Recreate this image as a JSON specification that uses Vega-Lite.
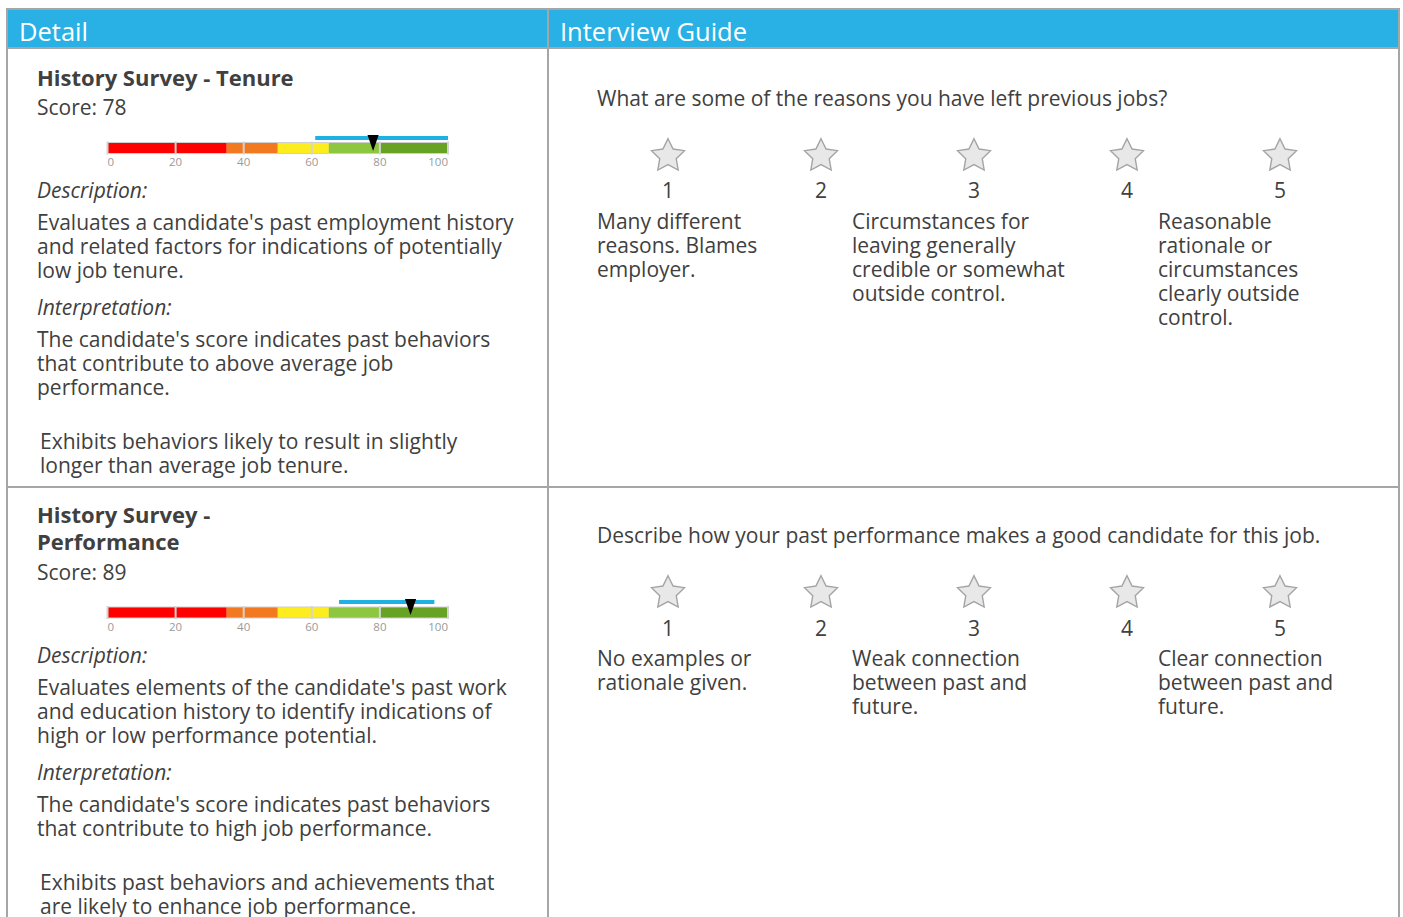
{
  "$schema": "https://vega.github.io/schema/vega-lite/v6.json",
  "padding": {"left": 6, "top": 8, "right": 5, "bottom": 0},
  "bounds": "flush",
  "background": "white",
  "spacing": 0,
  "columns": 2,
  "config": {
    "font": "Open Sans",
    "view": {"stroke": "#a6a6a6", "strokeWidth": 2},
    "axis": {"disable": true},
    "legend": {"disable": true},
    "concat": {"spacing": 0},
    "text": {"font": "Open Sans", "color": "#404040", "baseline": "middle"}
  },
  "datasets": {
    "headers": [
      {"panel": "detail", "label": "Detail", "col": 0, "line": 0},
      {"panel": "guide", "label": "Interview Guide", "col": 0, "line": 0}
    ],
    "detail": [
      {"section": 1, "role": "title", "line": 0, "indent": 0, "text": "History Survey - Tenure"},
      {"section": 1, "role": "body", "line": 1, "indent": 0, "text": "Score: 78"},
      {"section": 1, "role": "label", "line": 6, "indent": 0, "text": "Description:"},
      {"section": 1, "role": "body", "line": 7, "indent": 0, "text": "Evaluates a candidate's past employment history"},
      {"section": 1, "role": "body", "line": 8, "indent": 0, "text": "and related factors for indications of potentially"},
      {"section": 1, "role": "body", "line": 9, "indent": 0, "text": "low job tenure."},
      {"section": 1, "role": "label", "line": 10, "indent": 0, "text": "Interpretation:"},
      {"section": 1, "role": "body", "line": 11, "indent": 0, "text": "The candidate's score indicates past behaviors"},
      {"section": 1, "role": "body", "line": 12, "indent": 0, "text": "that contribute to above average job"},
      {"section": 1, "role": "body", "line": 13, "indent": 0, "text": "performance."},
      {"section": 1, "role": "body", "line": 14, "indent": 1, "text": "Exhibits behaviors likely to result in slightly"},
      {"section": 1, "role": "body", "line": 15, "indent": 1, "text": "longer than average job tenure."},
      {"section": 2, "role": "title", "line": 0, "indent": 0, "text": "History Survey -"},
      {"section": 2, "role": "title", "line": 1, "indent": 0, "text": "Performance"},
      {"section": 2, "role": "body", "line": 2, "indent": 0, "text": "Score: 89"},
      {"section": 2, "role": "label", "line": 7, "indent": 0, "text": "Description:"},
      {"section": 2, "role": "body", "line": 8, "indent": 0, "text": "Evaluates elements of the candidate's past work"},
      {"section": 2, "role": "body", "line": 9, "indent": 0, "text": "and education history to identify indications of"},
      {"section": 2, "role": "body", "line": 10, "indent": 0, "text": "high or low performance potential."},
      {"section": 2, "role": "label", "line": 11, "indent": 0, "text": "Interpretation:"},
      {"section": 2, "role": "body", "line": 12, "indent": 0, "text": "The candidate's score indicates past behaviors"},
      {"section": 2, "role": "body", "line": 13, "indent": 0, "text": "that contribute to high job performance."},
      {"section": 2, "role": "body", "line": 14, "indent": 1, "text": "Exhibits past behaviors and achievements that"},
      {"section": 2, "role": "body", "line": 15, "indent": 1, "text": "are likely to enhance job performance."}
    ],
    "zones": [
      {"zone": "Very low", "from": 0, "to": 35},
      {"zone": "Low", "from": 35, "to": 50},
      {"zone": "Average", "from": 50, "to": 65},
      {"zone": "High", "from": 65, "to": 80},
      {"zone": "Very high", "from": 80, "to": 100}
    ],
    "ticks": [{"v": 0}, {"v": 20}, {"v": 40}, {"v": 60}, {"v": 80}, {"v": 100}],
    "scores": [
      {"section": 1, "score": 78, "low": 61, "high": 100},
      {"section": 2, "score": 89, "low": 68, "high": 96}
    ],
    "guide": [
      {"section": 1, "col": 1, "line": 0, "text": "What are some of the reasons you have left previous jobs?"},
      {"section": 1, "col": 1, "line": 3, "text": "Many different"},
      {"section": 1, "col": 1, "line": 4, "text": "reasons. Blames"},
      {"section": 1, "col": 1, "line": 5, "text": "employer."},
      {"section": 1, "col": 3, "line": 3, "text": "Circumstances for"},
      {"section": 1, "col": 3, "line": 4, "text": "leaving generally"},
      {"section": 1, "col": 3, "line": 5, "text": "credible or somewhat"},
      {"section": 1, "col": 3, "line": 6, "text": "outside control."},
      {"section": 1, "col": 5, "line": 3, "text": "Reasonable"},
      {"section": 1, "col": 5, "line": 4, "text": "rationale or"},
      {"section": 1, "col": 5, "line": 5, "text": "circumstances"},
      {"section": 1, "col": 5, "line": 6, "text": "clearly outside"},
      {"section": 1, "col": 5, "line": 7, "text": "control."},
      {"section": 2, "col": 1, "line": 0, "text": "Describe how your past performance makes a good candidate for this job."},
      {"section": 2, "col": 1, "line": 3, "text": "No examples or"},
      {"section": 2, "col": 1, "line": 4, "text": "rationale given."},
      {"section": 2, "col": 3, "line": 3, "text": "Weak connection"},
      {"section": 2, "col": 3, "line": 4, "text": "between past and"},
      {"section": 2, "col": 3, "line": 5, "text": "future."},
      {"section": 2, "col": 5, "line": 3, "text": "Clear connection"},
      {"section": 2, "col": 5, "line": 4, "text": "between past and"},
      {"section": 2, "col": 5, "line": 5, "text": "future."}
    ],
    "ratings": [{"rating": 1}, {"rating": 2}, {"rating": 3}, {"rating": 4}, {"rating": 5}]
  },
  "concat": [
    {
      "width": 541, "height": 39,
      "view": {"fill": "#29b1e6", "stroke": "#a6a6a6", "strokeWidth": 2},
      "data": {"name": "headers"},
      "transform": [{"filter": "datum.panel == 'detail'"}],
      "mark": {"type": "text", "align": "left", "fontSize": 25.5, "color": "white"},
      "encoding": {
        "x": {"field": "col", "type": "quantitative", "scale": {"domain": [0, 1], "range": [12, 541]}},
        "y": {"field": "line", "type": "quantitative", "scale": {"domain": [0, 1], "range": [24, 63]}},
        "text": {"field": "label"}
      }
    },
    {
      "width": 851, "height": 39,
      "view": {"fill": "#29b1e6", "stroke": "#a6a6a6", "strokeWidth": 2},
      "data": {"name": "headers"},
      "transform": [{"filter": "datum.panel == 'guide'"}],
      "mark": {"type": "text", "align": "left", "fontSize": 25.5, "color": "white"},
      "encoding": {
        "x": {"field": "col", "type": "quantitative", "scale": {"domain": [0, 1], "range": [12, 851]}},
        "y": {"field": "line", "type": "quantitative", "scale": {"domain": [0, 1], "range": [24, 63]}},
        "text": {"field": "label"}
      }
    },
    {
      "width": 541, "height": 439,
      "layer": [
        {
          "data": {"name": "zones"},
          "mark": {"type": "rule", "strokeWidth": 12, "strokeCap": "butt", "color": "#cfcfcf"},
          "encoding": {
            "x": {"field": "from", "type": "quantitative", "scale": {"domain": [0, 100], "range": [100.5, 441]}},
            "x2": {"field": "to"},
            "y": {"datum": 4, "type": "quantitative", "scale": {"domain": [0, 1, 2, 3, 4, 5, 6, 7, 9, 10, 11, 13, 14, 15], "range": [31, 61, 90, 95, 100, 114.7, 144, 176, 224, 261, 293, 341, 395, 419], "nice": false, "zero": false}}
          }
        },
        {
          "data": {"name": "zones"},
          "mark": {"type": "rule", "strokeWidth": 10, "strokeCap": "butt"},
          "encoding": {
            "x": {"field": "from", "type": "quantitative", "scale": {"domain": [0, 100], "range": [100.5, 441]}},
            "x2": {"field": "to"},
            "y": {"datum": 4, "type": "quantitative"},
            "color": {"field": "zone", "type": "nominal", "scale": {"domain": ["Very low", "Low", "Average", "High", "Very high"], "range": ["#fe0000", "#f37921", "#fded1e", "#8dc63f", "#68a224"]}}
          }
        },
        {
          "data": {"name": "ticks"},
          "mark": {"type": "tick", "orient": "vertical", "size": 13, "thickness": 2, "color": "#d4d4d4", "opacity": 1},
          "encoding": {
            "x": {"field": "v", "type": "quantitative", "scale": {"domain": [0, 100], "range": [100.5, 441]}},
            "y": {"datum": 4, "type": "quantitative"}
          }
        },
        {
          "data": {"name": "scores"},
          "transform": [{"filter": "datum.section == 1"}],
          "mark": {"type": "rule", "strokeWidth": 4, "color": "#1fb0e6"},
          "encoding": {
            "x": {"field": "low", "type": "quantitative", "scale": {"domain": [0, 100], "range": [100.5, 441]}},
            "x2": {"field": "high"},
            "y": {"datum": 2, "type": "quantitative"}
          }
        },
        {
          "data": {"name": "scores"},
          "transform": [{"filter": "datum.section == 1"}],
          "mark": {"type": "point", "shape": "M-0.7,-1L0.7,-1L0,1Z", "size": 256, "filled": true, "color": "black", "opacity": 1},
          "encoding": {
            "x": {"field": "score", "type": "quantitative", "scale": {"domain": [0, 100], "range": [100.5, 441]}},
            "y": {"datum": 3, "type": "quantitative"}
          }
        },
        {
          "data": {"name": "ticks"},
          "mark": {"type": "text", "fontSize": 11.5, "color": "#9a9a9a", "align": {"expr": "datum.v == 0 ? 'left' : datum.v == 100 ? 'right' : 'center'"}},
          "encoding": {
            "x": {"field": "v", "type": "quantitative", "scale": {"domain": [0, 100], "range": [100.5, 441]}},
            "y": {"datum": 5, "type": "quantitative"},
            "text": {"field": "v"}
          }
        },
        {
          "data": {"name": "detail"},
          "transform": [{"filter": "datum.section == 1"}],
          "mark": {
            "type": "text", "align": "left",
            "fontSize": {"expr": "datum.role == 'title' ? 22 : 21"},
            "fontWeight": {"expr": "datum.role == 'title' ? 'bold' : 'normal'"},
            "fontStyle": {"expr": "datum.role == 'label' ? 'italic' : 'normal'"}
          },
          "encoding": {
            "x": {"field": "indent", "type": "quantitative", "scale": {"domain": [0, 1], "range": [30, 33]}},
            "y": {"field": "line", "type": "quantitative"},
            "text": {"field": "text"}
          }
        }
      ],
      "resolve": {"scale": {"x": "independent"}}
    },
    {
      "width": 851, "height": 439,
      "layer": [
        {
          "data": {"name": "guide"},
          "transform": [{"filter": "datum.section == 1"}],
          "mark": {"type": "text", "align": "left", "fontSize": 21},
          "encoding": {
            "x": {"field": "col", "type": "quantitative", "scale": {"domain": [1, 3, 5], "range": [49, 304, 610], "nice": false, "zero": false}},
            "y": {"field": "line", "type": "quantitative", "scale": {"domain": [0, 1, 2, 3, 8], "range": [52, 108, 144, 175, 295], "nice": false, "zero": false}},
            "text": {"field": "text"}
          }
        },
        {
          "data": {"name": "ratings"},
          "mark": {"type": "point", "shape": "M0,-1L0.294,-0.405L0.951,-0.309L0.476,0.155L0.588,0.809L0,0.5L-0.588,0.809L-0.476,0.155L-0.951,-0.309L-0.294,-0.405Z", "size": 1197, "filled": true, "fill": "#e8e8e8", "stroke": "#a4a4a4", "strokeWidth": 1.4, "opacity": 1},
          "encoding": {
            "x": {"field": "rating", "type": "quantitative", "scale": {"domain": [1, 5], "range": [120, 732], "nice": false, "zero": false}},
            "y": {"datum": 1, "type": "quantitative"}
          }
        },
        {
          "data": {"name": "ratings"},
          "mark": {"type": "text", "align": "center", "fontSize": 21},
          "encoding": {
            "x": {"field": "rating", "type": "quantitative", "scale": {"domain": [1, 5], "range": [120, 732], "nice": false, "zero": false}},
            "y": {"datum": 2, "type": "quantitative"},
            "text": {"field": "rating"}
          }
        }
      ],
      "resolve": {"scale": {"x": "independent"}}
    },
    {
      "width": 541, "height": 431,
      "layer": [
        {
          "data": {"name": "zones"},
          "mark": {"type": "rule", "strokeWidth": 12, "strokeCap": "butt", "color": "#cfcfcf"},
          "encoding": {
            "x": {"field": "from", "type": "quantitative", "scale": {"domain": [0, 100], "range": [100.5, 441]}},
            "x2": {"field": "to"},
            "y": {"datum": 5, "type": "quantitative", "scale": {"domain": [0, 1, 2, 3, 4, 5, 6, 7, 8, 10, 11, 12, 13, 14, 15], "range": [29, 56, 87, 115, 120, 125.5, 140.7, 170, 202, 250, 287, 319, 343, 397, 421], "nice": false, "zero": false}}
          }
        },
        {
          "data": {"name": "zones"},
          "mark": {"type": "rule", "strokeWidth": 10, "strokeCap": "butt"},
          "encoding": {
            "x": {"field": "from", "type": "quantitative", "scale": {"domain": [0, 100], "range": [100.5, 441]}},
            "x2": {"field": "to"},
            "y": {"datum": 5, "type": "quantitative"},
            "color": {"field": "zone", "type": "nominal", "scale": {"domain": ["Very low", "Low", "Average", "High", "Very high"], "range": ["#fe0000", "#f37921", "#fded1e", "#8dc63f", "#68a224"]}}
          }
        },
        {
          "data": {"name": "ticks"},
          "mark": {"type": "tick", "orient": "vertical", "size": 13, "thickness": 2, "color": "#d4d4d4", "opacity": 1},
          "encoding": {
            "x": {"field": "v", "type": "quantitative", "scale": {"domain": [0, 100], "range": [100.5, 441]}},
            "y": {"datum": 5, "type": "quantitative"}
          }
        },
        {
          "data": {"name": "scores"},
          "transform": [{"filter": "datum.section == 2"}],
          "mark": {"type": "rule", "strokeWidth": 4, "color": "#1fb0e6"},
          "encoding": {
            "x": {"field": "low", "type": "quantitative", "scale": {"domain": [0, 100], "range": [100.5, 441]}},
            "x2": {"field": "high"},
            "y": {"datum": 3, "type": "quantitative"}
          }
        },
        {
          "data": {"name": "scores"},
          "transform": [{"filter": "datum.section == 2"}],
          "mark": {"type": "point", "shape": "M-0.7,-1L0.7,-1L0,1Z", "size": 256, "filled": true, "color": "black", "opacity": 1},
          "encoding": {
            "x": {"field": "score", "type": "quantitative", "scale": {"domain": [0, 100], "range": [100.5, 441]}},
            "y": {"datum": 4, "type": "quantitative"}
          }
        },
        {
          "data": {"name": "ticks"},
          "mark": {"type": "text", "fontSize": 11.5, "color": "#9a9a9a", "align": {"expr": "datum.v == 0 ? 'left' : datum.v == 100 ? 'right' : 'center'"}},
          "encoding": {
            "x": {"field": "v", "type": "quantitative", "scale": {"domain": [0, 100], "range": [100.5, 441]}},
            "y": {"datum": 6, "type": "quantitative"},
            "text": {"field": "v"}
          }
        },
        {
          "data": {"name": "detail"},
          "transform": [{"filter": "datum.section == 2"}],
          "mark": {
            "type": "text", "align": "left",
            "fontSize": {"expr": "datum.role == 'title' ? 22 : 21"},
            "fontWeight": {"expr": "datum.role == 'title' ? 'bold' : 'normal'"},
            "fontStyle": {"expr": "datum.role == 'label' ? 'italic' : 'normal'"}
          },
          "encoding": {
            "x": {"field": "indent", "type": "quantitative", "scale": {"domain": [0, 1], "range": [30, 33]}},
            "y": {"field": "line", "type": "quantitative"},
            "text": {"field": "text"}
          }
        }
      ],
      "resolve": {"scale": {"x": "independent"}}
    },
    {
      "width": 851, "height": 431,
      "layer": [
        {
          "data": {"name": "guide"},
          "transform": [{"filter": "datum.section == 2"}],
          "mark": {"type": "text", "align": "left", "fontSize": 21},
          "encoding": {
            "x": {"field": "col", "type": "quantitative", "scale": {"domain": [1, 3, 5], "range": [49, 304, 610], "nice": false, "zero": false}},
            "y": {"field": "line", "type": "quantitative", "scale": {"domain": [0, 1, 2, 3, 8], "range": [50, 106, 143, 173, 293], "nice": false, "zero": false}},
            "text": {"field": "text"}
          }
        },
        {
          "data": {"name": "ratings"},
          "mark": {"type": "point", "shape": "M0,-1L0.294,-0.405L0.951,-0.309L0.476,0.155L0.588,0.809L0,0.5L-0.588,0.809L-0.476,0.155L-0.951,-0.309L-0.294,-0.405Z", "size": 1197, "filled": true, "fill": "#e8e8e8", "stroke": "#a4a4a4", "strokeWidth": 1.4, "opacity": 1},
          "encoding": {
            "x": {"field": "rating", "type": "quantitative", "scale": {"domain": [1, 5], "range": [120, 732], "nice": false, "zero": false}},
            "y": {"datum": 1, "type": "quantitative"}
          }
        },
        {
          "data": {"name": "ratings"},
          "mark": {"type": "text", "align": "center", "fontSize": 21},
          "encoding": {
            "x": {"field": "rating", "type": "quantitative", "scale": {"domain": [1, 5], "range": [120, 732], "nice": false, "zero": false}},
            "y": {"datum": 2, "type": "quantitative"},
            "text": {"field": "rating"}
          }
        }
      ],
      "resolve": {"scale": {"x": "independent"}}
    }
  ]
}
